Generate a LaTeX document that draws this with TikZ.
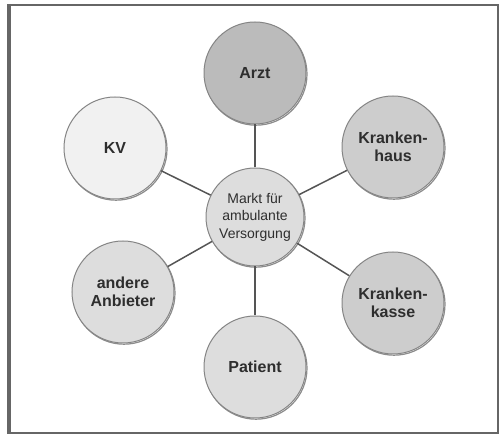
\documentclass[tikz,border=0pt]{standalone}
\usepackage{fontspec}
\setmainfont{Liberation Sans}
\definecolor{txt}{HTML}{2E2E2E}
\definecolor{edge}{HTML}{555555}
\definecolor{rim}{HTML}{858585}
\definecolor{cA}{HTML}{BBBBBB}
\definecolor{cB}{HTML}{CDCDCD}
\definecolor{cC}{HTML}{DDDDDD}
\definecolor{cD}{HTML}{F1F1F1}
\begin{document}
\begin{tikzpicture}[x=1pt,y=-1pt,
  bubble/.style={circle,draw=rim,line width=1pt,minimum size=102pt,inner sep=0pt,
    text=txt,font=\fontsize{16}{18}\selectfont\bfseries,align=center,
    preaction={draw=black!45,line width=1.2pt,transform canvas={shift={(1pt,-1.2pt)}}}},
  hub/.style={bubble,minimum size=98pt,font=\fontsize{14}{17.5}\selectfont},
  link/.style={draw=edge,line width=1.5pt}]
\useasboundingbox (0,0) rectangle (499,435);
\draw[draw=edge!90,line width=2pt] (9,5) rectangle (498,433);
\draw[draw=edge!90,line width=4pt] (9,4) -- (9,434);
\node[hub,fill=cC] (m) at (255,217) {Markt für\\ambulante\\Versorgung};
\node[bubble,fill=cA] (arzt) at (255,73) {Arzt};
\node[bubble,fill=cD] (kv) at (115,148) {KV};
\node[bubble,fill=cB] (kh) at (393,147) {Kranken-\\haus};
\node[bubble,fill=cC] (aa) at (123,292) {andere\\Anbieter};
\node[bubble,fill=cB] (kk) at (393,303) {Kranken-\\kasse};
\node[bubble,fill=cC] (pat) at (255,367) {Patient};
\foreach \n in {arzt,kv,kh,aa,kk,pat}{\draw[link] (m) -- (\n);}
\end{tikzpicture}
\end{document}
